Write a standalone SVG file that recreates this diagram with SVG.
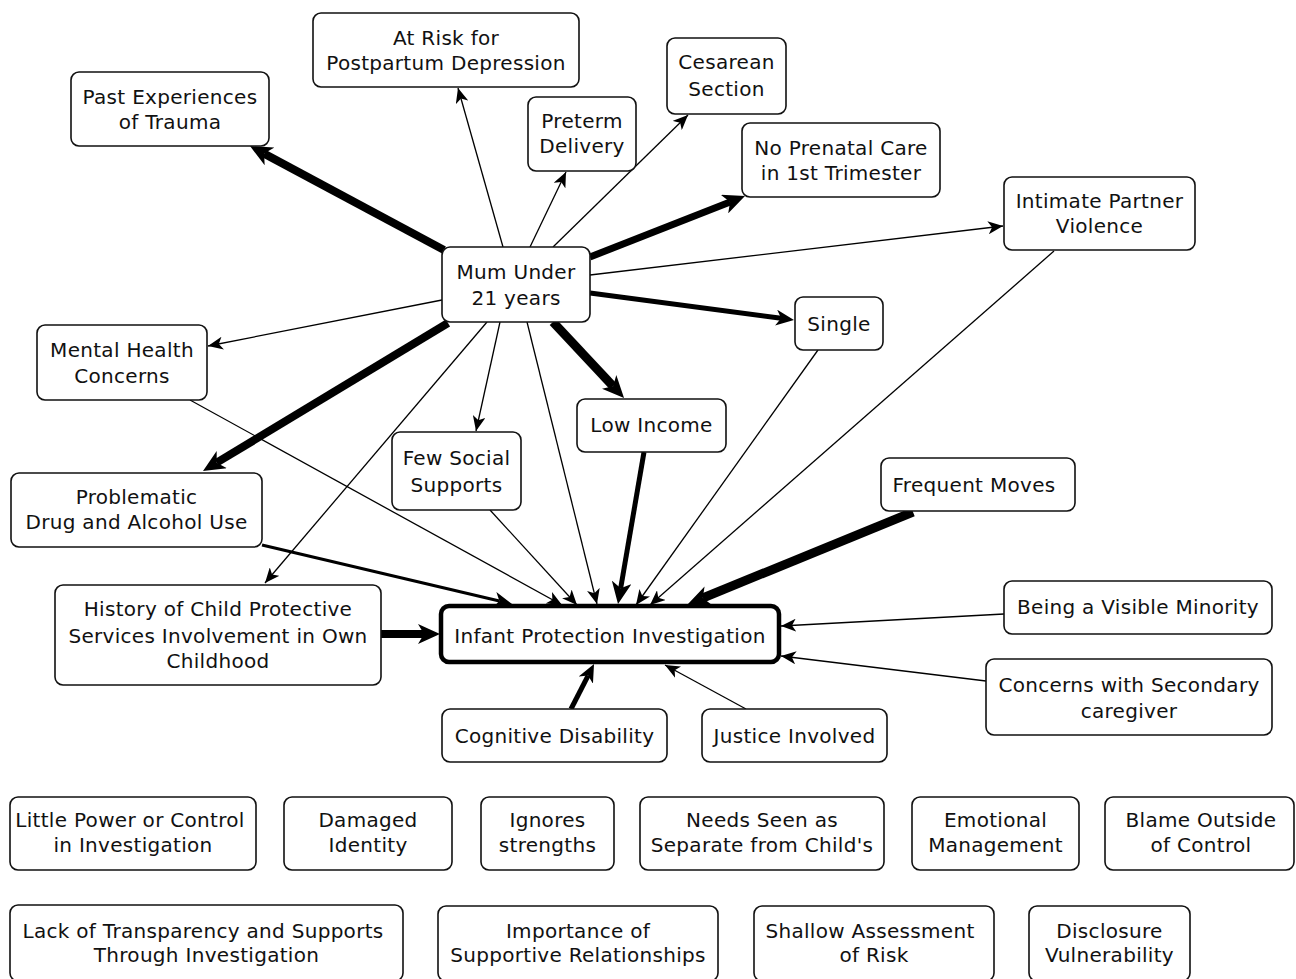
<svg xmlns="http://www.w3.org/2000/svg" width="1296" height="979" viewBox="0 0 1296 979">
  <style>
    .box { fill: #ffffff; stroke: #111111; stroke-width: 1.6; }
    .main { fill: #ffffff; stroke: #000000; stroke-width: 4.5; }
    text { font-family: "DejaVu Sans", "Liberation Sans", sans-serif; font-size: 20px; letter-spacing: 0.3px; fill: #111111; text-anchor: middle; }
    .edge { stroke: #000000; fill: none; stroke-linecap: butt; }
    .thin { stroke-width: 1.3; marker-end: url(#arrowS); }
  </style>
  <defs>
    <marker id="arrowS" markerUnits="userSpaceOnUse" markerWidth="16" markerHeight="13" refX="15" refY="6.5" orient="auto" viewBox="0 0 16 13">
      <path d="M0,0 L15,6.5 L0,13 L4,6.5 z" fill="#000"/>
    </marker>
    <marker id="arrowM" markerUnits="userSpaceOnUse" markerWidth="18" markerHeight="16" refX="5" refY="8" orient="auto" viewBox="0 0 18 16">
      <path d="M0,0 L18,8 L0,16 L5,8 z" fill="#000"/>
    </marker>
    <marker id="arrowL" markerUnits="userSpaceOnUse" markerWidth="22" markerHeight="20" refX="6" refY="10" orient="auto" viewBox="0 0 22 20">
      <path d="M0,0 L22,10 L0,20 L6,10 z" fill="#000"/>
    </marker>
  </defs>
  <rect width="1296" height="979" fill="#ffffff"/>

  <!-- connectors -->
  <g id="connectors">
    <!-- from Mum Under 21 years -->
    <line class="edge" x1="444" y1="250" x2="264.1" y2="153.6" stroke-width="8" marker-end="url(#arrowL)"/>
    <line class="edge thin" x1="503" y1="247" x2="458" y2="88"/>
    <line class="edge thin" x1="530" y1="247" x2="566" y2="172"/>
    <line class="edge thin" x1="553" y1="247" x2="688" y2="115"/>
    <line class="edge" x1="590" y1="257" x2="730.1" y2="201.9" stroke-width="7" marker-end="url(#arrowL)"/>
    <line class="edge thin" x1="590" y1="275" x2="1003" y2="226"/>
    <line class="edge" x1="590" y1="293" x2="781.1" y2="318.3" stroke-width="5" marker-end="url(#arrowM)"/>
    <line class="edge" x1="553" y1="322" x2="613.1" y2="386.3" stroke-width="9" marker-end="url(#arrowL)"/>
    <line class="edge thin" x1="442" y1="300" x2="208" y2="346"/>
    <line class="edge" x1="448" y1="323" x2="216.7" y2="462.7" stroke-width="8" marker-end="url(#arrowL)"/>
    <line class="edge thin" x1="487" y1="322" x2="265" y2="583"/>
    <line class="edge thin" x1="500" y1="322" x2="476" y2="431"/>
    <line class="edge thin" x1="527" y1="322" x2="597" y2="604"/>

    <!-- into Infant Protection Investigation -->
    <line class="edge thin" x1="190" y1="400" x2="562" y2="605"/>
    <line class="edge" x1="262" y1="545" x2="499.4" y2="601" stroke-width="3" marker-end="url(#arrowM)"/>
    <line class="edge thin" x1="490" y1="510" x2="577" y2="605"/>
    <line class="edge" x1="644" y1="452" x2="620.7" y2="588.2" stroke-width="5" marker-end="url(#arrowL)"/>
    <line class="edge thin" x1="818" y1="350" x2="636" y2="605"/>
    <line class="edge thin" x1="1054" y1="251" x2="650" y2="605"/>
    <line class="edge" x1="913" y1="512" x2="702.8" y2="598" stroke-width="9" marker-end="url(#arrowL)"/>
    <line class="edge" x1="381" y1="634" x2="424" y2="634" stroke-width="8" marker-end="url(#arrowL)"/>
    <line class="edge thin" x1="1004" y1="614" x2="781" y2="626"/>
    <line class="edge thin" x1="986" y1="681" x2="781" y2="656"/>
    <line class="edge" x1="571" y1="709" x2="588.1" y2="675.6" stroke-width="5" marker-end="url(#arrowM)"/>
    <line class="edge thin" x1="746" y1="709" x2="665" y2="665"/>
  </g>

  <!-- nodes -->
  <g id="n-postpartum">
    <rect class="box" x="313" y="13" width="266" height="74" rx="8"/>
    <text x="446" y="45">At Risk for</text>
    <text x="446" y="70">Postpartum Depression</text>
  </g>
  <g id="n-trauma">
    <rect class="box" x="71" y="72" width="198" height="74" rx="8"/>
    <text x="170" y="104">Past Experiences</text>
    <text x="170" y="129">of Trauma</text>
  </g>
  <g id="n-preterm">
    <rect class="box" x="528" y="97" width="108" height="74" rx="8"/>
    <text x="582" y="128">Preterm</text>
    <text x="582" y="153">Delivery</text>
  </g>
  <g id="n-cesarean">
    <rect class="box" x="667" y="38" width="119" height="76" rx="8"/>
    <text x="726.5" y="69">Cesarean</text>
    <text x="726.5" y="96">Section</text>
  </g>
  <g id="n-prenatal">
    <rect class="box" x="742" y="123" width="198" height="74" rx="8"/>
    <text x="841" y="155">No Prenatal Care</text>
    <text x="841" y="180">in 1st Trimester</text>
  </g>
  <g id="n-ipv">
    <rect class="box" x="1004" y="177" width="191" height="73" rx="8"/>
    <text x="1099.5" y="208">Intimate Partner</text>
    <text x="1099.5" y="233">Violence</text>
  </g>
  <g id="n-mum">
    <rect class="box" x="442" y="247" width="148" height="75" rx="8"/>
    <text x="516" y="279">Mum Under</text>
    <text x="516" y="305">21 years</text>
  </g>
  <g id="n-mental">
    <rect class="box" x="37" y="325" width="170" height="75" rx="8"/>
    <text x="122" y="357">Mental Health</text>
    <text x="122" y="383">Concerns</text>
  </g>
  <g id="n-single">
    <rect class="box" x="795" y="297" width="88" height="53" rx="8"/>
    <text x="839" y="331">Single</text>
  </g>
  <g id="n-income">
    <rect class="box" x="577" y="399" width="149" height="53" rx="8"/>
    <text x="651.5" y="432">Low Income</text>
  </g>
  <g id="n-social">
    <rect class="box" x="392" y="432" width="129" height="78" rx="8"/>
    <text x="456.5" y="465">Few Social</text>
    <text x="456.5" y="492">Supports</text>
  </g>
  <g id="n-drug">
    <rect class="box" x="11" y="473" width="251" height="74" rx="8"/>
    <text x="136.5" y="504">Problematic</text>
    <text x="136.5" y="529">Drug and Alcohol Use</text>
  </g>
  <g id="n-moves">
    <rect class="box" x="881" y="458" width="194" height="53" rx="8"/>
    <text x="974" y="492">Frequent Moves</text>
  </g>
  <g id="n-history">
    <rect class="box" x="55" y="585" width="326" height="100" rx="8"/>
    <text x="218" y="616">History of Child Protective</text>
    <text x="218" y="643">Services Involvement in Own</text>
    <text x="218" y="668">Childhood</text>
  </g>
  <g id="n-infant">
    <rect class="main" x="441" y="606" width="338" height="56" rx="8"/>
    <text x="610" y="643">Infant Protection Investigation</text>
  </g>
  <g id="n-minority">
    <rect class="box" x="1004" y="581" width="268" height="53" rx="8"/>
    <text x="1138" y="614">Being a Visible Minority</text>
  </g>
  <g id="n-caregiver">
    <rect class="box" x="986" y="659" width="286" height="76" rx="8"/>
    <text x="1129" y="692">Concerns with Secondary</text>
    <text x="1129" y="718">caregiver</text>
  </g>
  <g id="n-cognitive">
    <rect class="box" x="442" y="709" width="225" height="53" rx="8"/>
    <text x="554.5" y="743">Cognitive Disability</text>
  </g>
  <g id="n-justice">
    <rect class="box" x="702" y="709" width="185" height="53" rx="8"/>
    <text x="794.5" y="743">Justice Involved</text>
  </g>

  <!-- unconnected themes, first row -->
  <g id="t-power">
    <rect class="box" x="10" y="797" width="246" height="73" rx="8"/>
    <text x="130" y="827">Little Power or Control</text>
    <text x="133" y="852">in Investigation</text>
  </g>
  <g id="t-identity">
    <rect class="box" x="284" y="797" width="168" height="73" rx="8"/>
    <text x="368" y="827">Damaged</text>
    <text x="368" y="852">Identity</text>
  </g>
  <g id="t-strengths">
    <rect class="box" x="481" y="797" width="133" height="73" rx="8"/>
    <text x="547.5" y="827">Ignores</text>
    <text x="547.5" y="852">strengths</text>
  </g>
  <g id="t-needs">
    <rect class="box" x="640" y="797" width="244" height="73" rx="8"/>
    <text x="762" y="827">Needs Seen as</text>
    <text x="762" y="852">Separate from Child's</text>
  </g>
  <g id="t-emotional">
    <rect class="box" x="912" y="797" width="167" height="73" rx="8"/>
    <text x="995.5" y="827">Emotional</text>
    <text x="995.5" y="852">Management</text>
  </g>
  <g id="t-blame">
    <rect class="box" x="1105" y="797" width="189" height="73" rx="8"/>
    <text x="1201" y="827">Blame Outside</text>
    <text x="1201" y="852">of Control</text>
  </g>

  <!-- unconnected themes, second row -->
  <g id="t-transparency">
    <rect class="box" x="10" y="905" width="393" height="76" rx="8"/>
    <text x="203" y="938">Lack of Transparency and Supports</text>
    <text x="206.5" y="962">Through Investigation</text>
  </g>
  <g id="t-relationships">
    <rect class="box" x="438" y="906" width="280" height="75" rx="8"/>
    <text x="578" y="938">Importance of</text>
    <text x="578" y="962">Supportive Relationships</text>
  </g>
  <g id="t-assessment">
    <rect class="box" x="754" y="906" width="240" height="75" rx="8"/>
    <text x="870" y="938">Shallow Assessment</text>
    <text x="874" y="962">of Risk</text>
  </g>
  <g id="t-disclosure">
    <rect class="box" x="1029" y="906" width="161" height="75" rx="8"/>
    <text x="1109.5" y="938">Disclosure</text>
    <text x="1109.5" y="962">Vulnerability</text>
  </g>
</svg>
